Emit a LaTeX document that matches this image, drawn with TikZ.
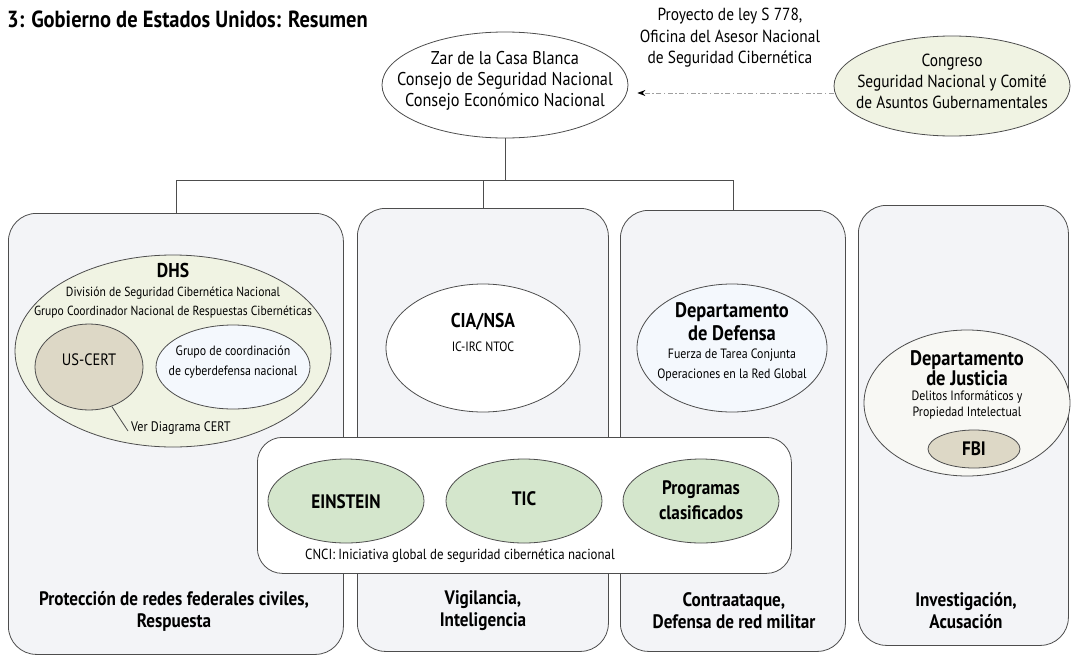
\documentclass[tikz,border=0pt]{standalone}
\usepackage{fontspec}
\setmainfont{PT Sans}[FakeStretch=0.88]
\usetikzlibrary{shapes.geometric,arrows.meta,calc}
\newcommand\fsz[2]{\fontsize{#1}{#2}\selectfont}
\definecolor{lc}{HTML}{4D4D4D}
\definecolor{panelc}{HTML}{F3F4F7}
\definecolor{creamc}{HTML}{F0F3E3}
\definecolor{tanc}{HTML}{DDD8C6}
\definecolor{bluec}{HTML}{F4F8FD}
\definecolor{greenc}{HTML}{D4E6CC}
\definecolor{offc}{HTML}{F8F8F4}
\begin{document}
\begin{tikzpicture}[x=1pt,y=-1pt,
  panel/.style={draw=lc, fill=panelc, rounded corners=28pt, line width=0.8pt, inner sep=0pt, anchor=north west},
  ell/.style={ellipse, draw=lc, line width=0.8pt, inner sep=0pt},
  txt/.style={align=center, inner sep=0pt, text=black},
  conn/.style={draw=lc, line width=0.8pt},
  lbl/.style={txt, font=\bfseries\fsz{19.5}{22}},
  glbl/.style={txt, font=\bfseries\fsz{19.5}{24.5}}
]
\useasboundingbox (0,0) rectangle (1074,656);
% title
\node[txt, anchor=west, font=\bfseries\fsz{23.3}{25}] (title) at (7,19) {3: Gobierno de Estados Unidos: Resumen};
% panels
\node[panel, minimum width=335, minimum height=441] (p1) at (8,213) {};
\node[panel, minimum width=251, minimum height=443] (p2) at (357,208) {};
\node[panel, minimum width=225, minimum height=441] (p3) at (620,210) {};
\node[panel, minimum width=210, minimum height=440] (p4) at (858,205) {};
% top ellipses
\node[ell, fill=white, minimum width=246, minimum height=106] (zar) at (505,85) {};
\node[ell, fill=creamc, minimum width=236, minimum height=100] (congress) at (952,86) {};
% tree
\coordinate (bus) at (505,180);
\draw[conn] (zar.south) -- (bus);
\draw[conn] (p1.north) |- (bus);
\draw[conn] (p3.north) |- (bus);
\draw[conn] (p2.north) |- (bus);
% dashed arrow
\draw[draw=gray!75, line width=0.9pt, dash pattern=on 5pt off 2.5pt on 1.5pt off 2.5pt,
  -{Stealth[length=8pt,width=6pt,black]}] ($(congress.west)+(0,7)$) -- ($(zar.east)+(9,8)$);
% top texts
\node[txt, font=\fsz{18.5}{21}] (zart) at (505,81) {Zar de la Casa Blanca\\Consejo de Seguridad Nacional\\Consejo Económico Nacional};
\node[txt, font=\fsz{17.5}{21}] (congt) at (952,81) {Congreso\\Seguridad Nacional y Comité\\de Asuntos Gubernamentales};
\node[txt, font=\fsz{17.5}{21.5}] (proy) at (730,38) {Proyecto de ley S 778,\\Oficina del Asesor Nacional\\de Seguridad Cibernética};
% DHS
\node[ell, fill=creamc, minimum width=316, minimum height=192] (dhs) at (173,351) {};
\node[ell, fill=tanc, minimum width=108, minimum height=86] (uscert) at (89,367) {};
\node[ell, fill=bluec, minimum width=154, minimum height=84] (grupo) at (233,367) {};
\node[txt, font=\bfseries\fsz{20}{22}] (dhst) at (173,270) {DHS};
\node[txt, font=\fsz{13.2}{19}] (dhss) at (173,302.5) {División de Seguridad Cibernética Nacional\\Grupo Coordinador Nacional de Respuestas Cibernéticas};
\node[txt, font=\fsz{16.5}{18}] (usct) at (89,360) {US-CERT};
\node[txt, font=\fsz{13.5}{20}] (grupot) at (233,362) {Grupo de coordinación\\de cyberdefensa nacional};
\node[txt, anchor=west, font=\fsz{13.8}{15}] (verd) at (131,428) {Ver Diagrama CERT};
\draw[conn] (uscert.300) -- ([xshift=-3pt,yshift=-3pt]verd.west);
% CIA/NSA
\node[ell, fill=white, minimum width=194, minimum height=128] (cia) at (483,348) {};
\node[txt, font=\bfseries\fsz{20}{22}] (ciat) at (483,322) {CIA/NSA};
\node[txt, font=\fsz{13.5}{15}] (ciast) at (483,347) {IC-IRC NTOC};
% DoD
\node[ell, fill=bluec, minimum width=190, minimum height=128] (dod) at (732,348) {};
\node[txt, font=\bfseries\fsz{21}{23}] (dodt) at (732,321.5) {Departamento\\de Defensa};
\node[txt, font=\fsz{13.5}{20}] (dods) at (732,365) {Fuerza de Tarea Conjunta\\Operaciones en la Red Global};
% DoJ
\node[ell, fill=offc, minimum width=206, minimum height=146] (doj) at (967,403) {};
\node[txt, font=\bfseries\fsz{21}{20.5}] (dojt) at (967,368) {Departamento\\de Justicia};
\node[txt, font=\fsz{13.5}{16.5}] (dojs) at (967,405) {Delitos Informáticos y\\Propiedad Intelectual};
\node[ell, fill=tanc, minimum width=92, minimum height=38] (fbi) at (974,449) {};
\node[txt, font=\bfseries\fsz{19.5}{20}] (fbit) at (974,449) {FBI};
% CNCI
\node[panel, draw=lc, fill=white, rounded corners=25pt, minimum width=534, minimum height=136] (cnci) at (257,437) {};
\node[ell, fill=greenc, minimum width=156, minimum height=84] (ein) at (346,501) {};
\node[ell, fill=greenc, minimum width=156, minimum height=84] (tic) at (524,501) {};
\node[ell, fill=greenc, minimum width=156, minimum height=84] (prog) at (701,501) {};
\node[glbl] (eint) at (346,502) {EINSTEIN};
\node[glbl] (tict) at (524,499) {TIC};
\node[glbl] (progt) at (701,500) {Programas\\clasificados};
\node[txt, anchor=west, font=\fsz{14.6}{16}] (cncit) at (305,556) {CNCI: Iniciativa global de seguridad cibernética nacional};
% panel labels
\node[lbl] (l1) at (174,611) {Protección de redes federales civiles,\\Respuesta};
\node[lbl] (l2) at (483,611) {Vigilancia,\\Inteligencia};
\node[lbl] (l3) at (734,611) {Contraataque,\\Defensa de red militar};
\node[lbl] (l4) at (966,611) {Investigación,\\Acusación};
\end{tikzpicture}
\end{document}
